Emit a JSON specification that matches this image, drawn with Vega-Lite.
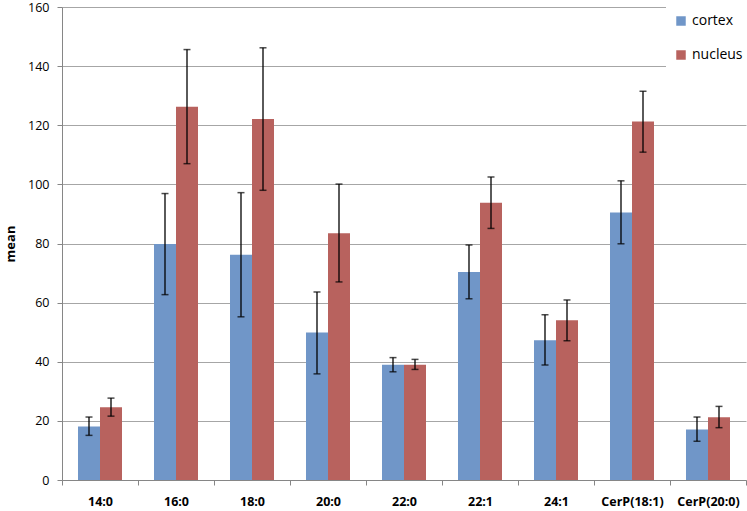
{
  "$schema": "https://vega.github.io/schema/vega-lite/v6.json",
  "width": 684,
  "height": 473,
  "autosize": "none",
  "padding": {"left": 62, "top": 7, "right": 1, "bottom": 31},
  "background": "white",
  "config": {
    "view": {"stroke": null},
    "font": "Open Sans"
  },
  "data": {
    "values": [
      {"lipid": "14:0", "tissue": "cortex", "mean": 18.1, "lo": 15.1, "hi": 21.3},
      {"lipid": "14:0", "tissue": "nucleus", "mean": 24.6, "lo": 21.6, "hi": 27.7},
      {"lipid": "16:0", "tissue": "cortex", "mean": 79.8, "lo": 62.7, "hi": 96.9},
      {"lipid": "16:0", "tissue": "nucleus", "mean": 126.3, "lo": 107.0, "hi": 145.6},
      {"lipid": "18:0", "tissue": "cortex", "mean": 76.2, "lo": 55.2, "hi": 97.2},
      {"lipid": "18:0", "tissue": "nucleus", "mean": 122.1, "lo": 98.0, "hi": 146.2},
      {"lipid": "20:0", "tissue": "cortex", "mean": 49.9, "lo": 35.9, "hi": 63.6},
      {"lipid": "20:0", "tissue": "nucleus", "mean": 83.5, "lo": 67.0, "hi": 100.1},
      {"lipid": "22:0", "tissue": "cortex", "mean": 39.0, "lo": 36.6, "hi": 41.4},
      {"lipid": "22:0", "tissue": "nucleus", "mean": 39.0, "lo": 37.4, "hi": 40.8},
      {"lipid": "22:1", "tissue": "cortex", "mean": 70.4, "lo": 61.3, "hi": 79.5},
      {"lipid": "22:1", "tissue": "nucleus", "mean": 93.8, "lo": 85.1, "hi": 102.5},
      {"lipid": "24:1", "tissue": "cortex", "mean": 47.3, "lo": 38.9, "hi": 55.9},
      {"lipid": "24:1", "tissue": "nucleus", "mean": 54.0, "lo": 47.1, "hi": 60.9},
      {"lipid": "CerP(18:1)", "tissue": "cortex", "mean": 90.5, "lo": 79.9, "hi": 101.2},
      {"lipid": "CerP(18:1)", "tissue": "nucleus", "mean": 121.3, "lo": 110.9, "hi": 131.5},
      {"lipid": "CerP(20:0)", "tissue": "cortex", "mean": 17.1, "lo": 13.1, "hi": 21.3},
      {"lipid": "CerP(20:0)", "tissue": "nucleus", "mean": 21.2, "lo": 17.7, "hi": 24.9}
    ]
  },
  "encoding": {
    "x": {
      "field": "lipid",
      "type": "nominal",
      "sort": null,
      "scale": {"paddingInner": 0, "paddingOuter": 0},
      "axis": {
        "title": null,
        "labelAngle": 0,
        "labelFontWeight": "bold",
        "labelFontSize": 12.5,
        "labelColor": "#000000",
        "labelPadding": 10,
        "tickBand": "extent",
        "tickSize": 5,
        "tickColor": "#868686",
        "domainColor": "#868686",
        "grid": false
      }
    },
    "xOffset": {
      "field": "tissue",
      "type": "nominal",
      "scale": {"paddingInner": 0, "paddingOuter": 0.727}
    }
  },
  "layer": [
    {
      "mark": {"type": "bar"},
      "encoding": {
        "y": {
          "field": "mean",
          "type": "quantitative",
          "scale": {"domain": [0, 160], "nice": false},
          "axis": {
            "title": "mean",
            "titleFontWeight": "bold",
            "titleFontSize": 13,
            "titleColor": "#000000",
            "titlePadding": 10,
            "values": [0, 20, 40, 60, 80, 100, 120, 140, 160],
            "labelFontSize": 12.5,
            "labelColor": "#000000",
            "labelPadding": 8,
            "tickSize": 5,
            "tickColor": "#868686",
            "domainColor": "#868686",
            "gridColor": "#A6A6A6",
            "gridWidth": 1.2
          }
        },
        "color": {
          "field": "tissue",
          "type": "nominal",
          "scale": {"domain": ["cortex", "nucleus"], "range": ["#7096C8", "#B8625E"]},
          "legend": {
            "title": null,
            "orient": "none",
            "legendX": 604,
            "legendY": -1,
            "fillColor": "white",
            "padding": 8,
            "symbolType": "square",
            "symbolSize": 90,
            "symbolStrokeWidth": 0,
            "labelFontSize": 14,
            "labelColor": "#000000",
            "rowPadding": 20,
            "labelOffset": 4
          }
        }
      }
    },
    {
      "mark": {"type": "rule", "color": "#000000", "strokeWidth": 1.3},
      "encoding": {
        "y": {"field": "lo", "type": "quantitative"},
        "y2": {"field": "hi"}
      }
    },
    {
      "mark": {"type": "tick", "color": "#000000", "size": 7, "thickness": 1.5},
      "encoding": {
        "y": {"field": "lo", "type": "quantitative"}
      }
    },
    {
      "mark": {"type": "tick", "color": "#000000", "size": 7, "thickness": 1.5},
      "encoding": {
        "y": {"field": "hi", "type": "quantitative"}
      }
    }
  ]
}
